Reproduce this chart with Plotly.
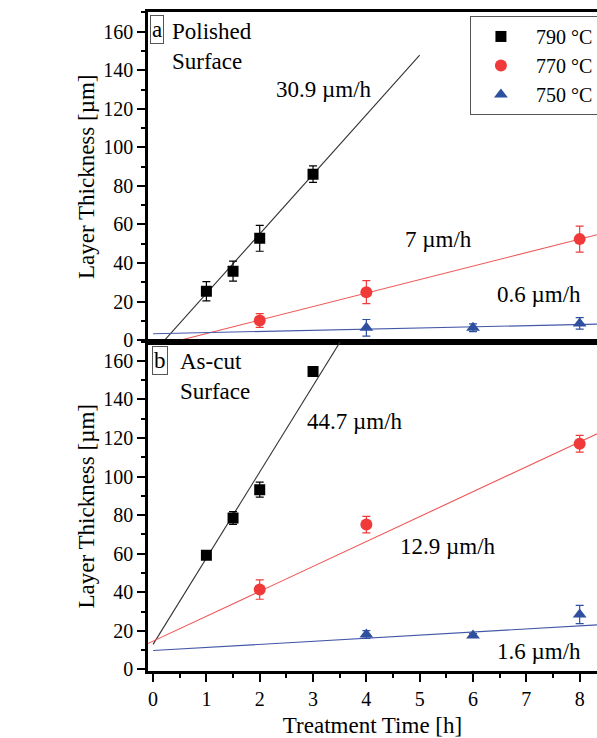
import plotly.graph_objects as go

# ---------------- data ----------------
# (a) polished surface
a_t790 = [1, 1.5, 2, 3]
a_y790 = [25.4, 35.8, 52.8, 86.1]
a_e790 = [5.0, 5.2, 6.7, 4.3]
a_t770 = [2, 4, 8]
a_y770 = [10.2, 24.9, 52.4]
a_e770 = [3.6, 6.0, 6.7]
a_t750 = [4, 6, 8]
a_y750 = [6.4, 6.4, 8.7]
a_e750 = [4.3, 2.0, 3.0]
# (b) as-cut surface
b_t790 = [1, 1.5, 2, 3]
b_y790 = [59.2, 78.5, 93.2, 154.5]
b_e790 = [1.5, 3.3, 3.9, 1.0]
b_t770 = [2, 4, 8]
b_y770 = [41.4, 75.1, 117.0]
b_e770 = [5.0, 4.3, 4.3]
b_t750 = [4, 6, 8]
b_y750 = [18.1, 17.6, 28.5]
b_e750 = [2.0, 1.0, 4.7]

# linear-fit end points
a_fit790_x, a_fit790_y = [0, 5], [-6.7, 147.8]
a_fit770_x, a_fit770_y = [0, 8.5], [-3.6, 55.9]
a_fit750_x, a_fit750_y = [0, 8.5], [3.3, 8.4]
b_fit790_x, b_fit790_y = [0, 3.6], [13.0, 173.9]
b_fit770_x, b_fit770_y = [-0.1, 8.5], [13.4, 124.4]
b_fit750_x, b_fit750_y = [0, 8.5], [9.8, 23.4]

rates_a = ["30.9 µm/h", "7 µm/h", "0.6 µm/h"]
rates_b = ["44.7 µm/h", "12.9 µm/h", "1.6 µm/h"]
series_names = ["790 °C", "770 °C", "750 °C"]

# ---------------- style ----------------
FONT = "'Liberation Serif', 'DejaVu Serif', 'Times New Roman', serif"
C_BLACK = "#000000"
C_RED = "#f03a3a"
C_BLUE = "#2f4f9f"
FIT_COL = ["#333333", "#f05555", "#4458a8"]
SYMB = ["square", "circle", "triangle-up"]
COLS = [C_BLACK, C_RED, C_BLUE]
MSIZE = [11, 12, 12]

fig = go.Figure()

panels = [
    ("x", "y", [(a_t790, a_y790, a_e790), (a_t770, a_y770, a_e770), (a_t750, a_y750, a_e750)],
     [(a_fit790_x, a_fit790_y), (a_fit770_x, a_fit770_y), (a_fit750_x, a_fit750_y)], True),
    ("x2", "y2", [(b_t790, b_y790, b_e790), (b_t770, b_y770, b_e770), (b_t750, b_y750, b_e750)],
     [(b_fit790_x, b_fit790_y), (b_fit770_x, b_fit770_y), (b_fit750_x, b_fit750_y)], False),
]

for xa, ya, pts, fits, show in panels:
    for i, (fx, fy) in enumerate(fits):
        fig.add_trace(go.Scatter(x=fx, y=fy, mode="lines", xaxis=xa, yaxis=ya,
                                 line=dict(color=FIT_COL[i], width=1.1),
                                 showlegend=False, hoverinfo="skip"))
    for i, (tx, vy, ev) in enumerate(pts):
        fig.add_trace(go.Scatter(
            x=tx, y=vy, mode="markers", xaxis=xa, yaxis=ya,
            name="\u00a0" + series_names[i], showlegend=show,
            marker=dict(symbol=SYMB[i], size=MSIZE[i], color=COLS[i], line=dict(width=0)),
            error_y=dict(type="data", array=ev, visible=True, color=COLS[i],
                         thickness=1.2, width=4),
        ))

axis_common = dict(showline=True, linecolor="black", linewidth=2.5,
                   tickcolor="black", showgrid=False, zeroline=False,
                   tickfont=dict(family=FONT, size=20, color="black"))

XR = [-0.095, 8.325]
YR_A = [-0.7, 170.2]
YR_B = [-0.8, 170]

fig.update_layout(
    width=597, height=738,
    margin=dict(l=148, r=0, t=12, b=67, autoexpand=False),
    paper_bgcolor="white", plot_bgcolor="white",
    font=dict(family=FONT, size=20, color="black"),
    xaxis=dict(**axis_common, domain=[0, 1], anchor="y", range=XR, mirror=True,
               ticks="", showticklabels=False),
    yaxis=dict(**axis_common, domain=[0.5, 1], anchor="x", range=YR_A,
               ticks="outside", ticklen=8, tickwidth=2, dtick=20, tick0=0,
               minor=dict(ticks="outside", ticklen=4, tickwidth=1.5, dtick=10,
                          tickcolor="black", showgrid=False),
               title=dict(text="Layer Thickness [µm]", font=dict(family=FONT, size=23),
                          standoff=3)),
    xaxis2=dict(**axis_common, domain=[0, 1], anchor="y2", range=XR, mirror=True,
                ticks="outside", ticklen=8, tickwidth=2, dtick=1, tick0=0,
                minor=dict(ticks="outside", ticklen=4, tickwidth=1.5, dtick=0.5,
                           tickcolor="black", showgrid=False),
                title=dict(text="Treatment Time [h]", font=dict(family=FONT, size=23),
                           standoff=14)),
    yaxis2=dict(**axis_common, domain=[0, 0.5], anchor="x2", range=YR_B,
                ticks="outside", ticklen=8, tickwidth=2, dtick=20, tick0=0,
                minor=dict(ticks="outside", ticklen=4, tickwidth=1.5, dtick=10,
                           tickcolor="black", showgrid=False),
                title=dict(text="Layer Thickness [µm]", font=dict(family=FONT, size=23),
                           standoff=3)),
    legend=dict(x=0.717, y=0.994, xanchor="left", yanchor="top",
                bgcolor="white", bordercolor="#555555", borderwidth=1,
                font=dict(family=FONT, size=20, color="black"),
                itemwidth=50, tracegroupgap=0),
    showlegend=True,
)

annots = []
# rate labels (positions in data coordinates)
for txt, (x, y) in zip(rates_a, [(3.2, 130), (5.35, 52.2), (7.24, 23.7)]):
    annots.append(dict(text=txt, x=x, y=y, xref="x", yref="y", showarrow=False,
                       font=dict(family=FONT, size=23, color="black")))
for txt, (x, y) in zip(rates_b, [(3.79, 128.6), (5.53, 63.9), (7.23, 9.5)]):
    annots.append(dict(text=txt, x=x, y=y, xref="x2", yref="y2", showarrow=False,
                       font=dict(family=FONT, size=23, color="black")))
# panel labels
annots.append(dict(text="a", x=0.004, y=0.995, xref="paper", yref="paper",
                   xanchor="left", yanchor="top", showarrow=False,
                   bordercolor="#555555", borderwidth=1, borderpad=1,
                   font=dict(family=FONT, size=23, color="black")))
annots.append(dict(text="Polished<br>Surface", x=0.05, y=0.993, xref="paper", yref="paper",
                   xanchor="left", yanchor="top", align="left", showarrow=False,
                   font=dict(family=FONT, size=23, color="black")))
annots.append(dict(text="b", x=0.008, y=0.4925, xref="paper", yref="paper",
                   xanchor="left", yanchor="top", showarrow=False,
                   bordercolor="#555555", borderwidth=1, borderpad=1,
                   font=dict(family=FONT, size=23, color="black")))
annots.append(dict(text="As-cut<br>Surface", x=0.066, y=0.492, xref="paper", yref="paper",
                   xanchor="left", yanchor="top", align="left", showarrow=False,
                   font=dict(family=FONT, size=23, color="black")))
fig.update_layout(annotations=annots)

# remove the default page margin so the figure fills the window exactly
fig.write_html("out.html", config={"displayModeBar": False},
               post_script="document.body.style.margin='0';")
